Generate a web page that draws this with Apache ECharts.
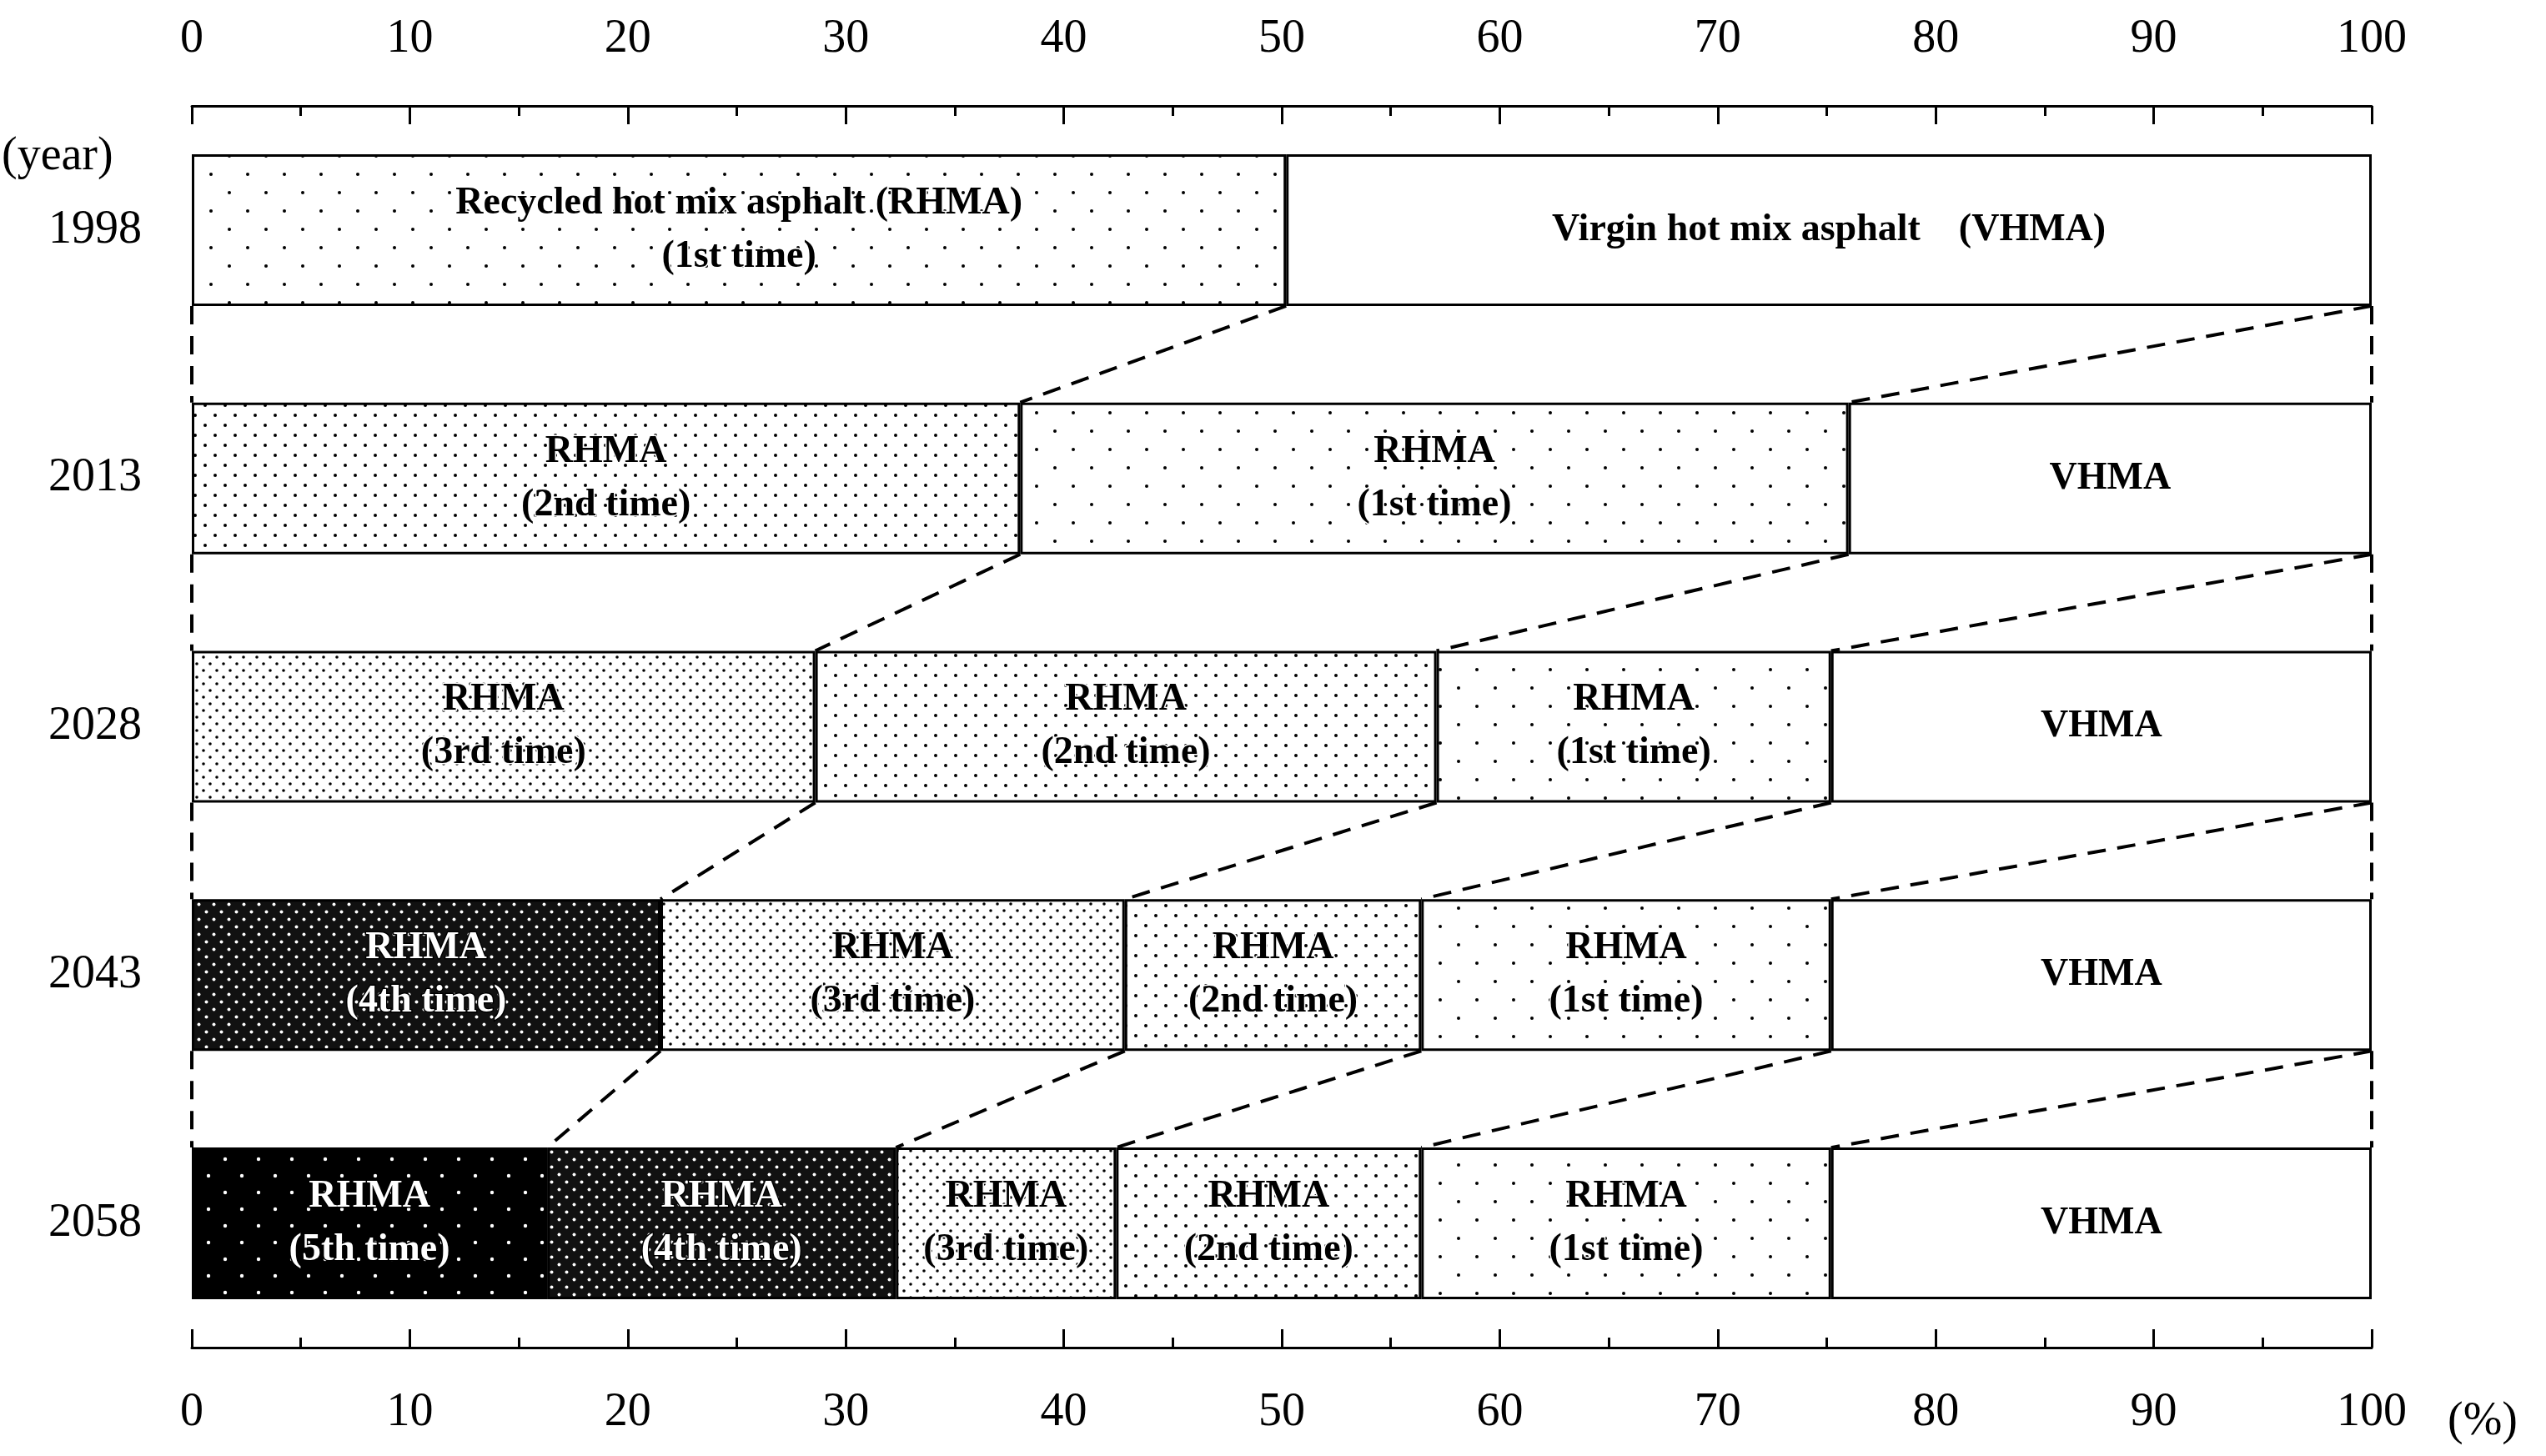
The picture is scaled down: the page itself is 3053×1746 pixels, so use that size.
<!DOCTYPE html>
<html>
<head>
<meta charset="utf-8">
<script src="https://cdn.jsdelivr.net/npm/echarts@6/dist/echarts.min.js"></script>
<style>html,body{margin:0;background:#fff}#c{width:3053px;height:1746px}</style>
</head>
<body>
<div id="c"></div>
<script>
var years = ['1998', '2013', '2028', '2043', '2058'];
var rhma5 = [null, null, null, null, 16.3];
var rhma4 = [null, null, null, 21.5, 16.0];
var rhma3 = [null, null, 28.6, 21.3, 10.1];
var rhma2 = [null, 38.0, 28.5, 13.6, 14.0];
var rhma1 = [50.2, 38.0, 18.1, 18.8, 18.8];
var vhma  = [49.8, 24.0, 24.8, 24.8, 24.8];
var xTicks = [0, 10, 20, 30, 40, 50, 60, 70, 80, 90, 100];

var FONT = '"Liberation Serif", "DejaVu Serif", serif';
var BAR_W = 182;

function makePattern(bg, fg, step, r) {
    var c = document.createElement('canvas');
    c.width = step * 2; c.height = step * 2;
    var g = c.getContext('2d');
    g.fillStyle = bg; g.fillRect(0, 0, c.width, c.height);
    g.fillStyle = fg;
    [[0, 0], [step, step]].forEach(function (p) {
        g.beginPath(); g.arc(p[0] + step / 2, p[1] + step / 2, r, 0, Math.PI * 2); g.fill();
    });
    return { image: c, repeat: 'repeat' };
}

var levels = [
    { name: '5th', data: rhma5, fill: makePattern('#000', '#fff', 20, 2.2), text: '#fff', label: 'RHMA\n(5th time)' },
    { name: '4th', data: rhma4, fill: makePattern('#111', '#fff', 9, 2.0), text: '#fff', label: 'RHMA\n(4th time)' },
    { name: '3rd', data: rhma3, fill: makePattern('#fff', '#000', 8, 1.8), text: '#000', label: 'RHMA\n(3rd time)' },
    { name: '2nd', data: rhma2, fill: makePattern('#fff', '#000', 12, 2.0), text: '#000', label: 'RHMA\n(2nd time)' },
    { name: '1st', data: rhma1, fill: makePattern('#fff', '#000', 22, 2.0), text: '#000', label: 'RHMA\n(1st time)' },
    { name: 'VHMA', data: vhma, fill: '#fff', text: '#000', label: 'VHMA' }
];

var series = levels.map(function (lv) {
    return {
        type: 'bar', stack: 'all', name: lv.name, barWidth: BAR_W, xAxisIndex: 1,
        data: lv.data.map(function (v, i) {
            var lbl = lv.label;
            if (i === 0 && lv.name === '1st') lbl = 'Recycled hot mix asphalt (RHMA)\n(1st time)';
            if (i === 0 && lv.name === 'VHMA') lbl = 'Virgin hot mix asphalt　(VHMA)';
            return { value: v, label: { formatter: lbl } };
        }),
        itemStyle: { color: lv.fill, borderColor: '#000', borderWidth: 3 },
        label: {
            show: true, color: lv.text, fontFamily: FONT, fontSize: 46, fontWeight: 'bold',
            lineHeight: 64, textBorderColor: lv.name === '4th' || lv.name === '5th' ? '#000' : '#fff',
            textBorderWidth: 3
        },
        emphasis: { disabled: true }
    };
});

// boundaries of each year (cumulative ends, excluding 0 ordering left to right)
function bounds(i) {
    var out = [], s = 0;
    levels.forEach(function (lv) {
        if (lv.data[i] != null) { s += lv.data[i]; out.push(s); }
    });
    out[out.length - 1] = 100;
    return out;
}
var links = [];
for (var i = 0; i < years.length - 1; i++) {
    var a = bounds(i), b = bounds(i + 1);
    a.forEach(function (x, k) { links.push([x, i, b[k], i + 1]); });
    links.push([0, i, 0, i + 1]);
    links.push([100, i, 100, i + 1]);
}

series.push({
    type: 'custom', xAxisIndex: 1, data: links, silent: true, z: 1,
    renderItem: function (params, api) {
        var p1 = api.coord([api.value(0), api.value(1)]);
        var p2 = api.coord([api.value(2), api.value(3)]);
        return {
            type: 'line',
            shape: { x1: p1[0], y1: p1[1] + BAR_W / 2, x2: p2[0], y2: p2[1] - BAR_W / 2 },
            style: { stroke: '#000', lineWidth: 4, lineDash: [22, 14] }
        };
    }
});

function xAxis(pos) {
    return {
        type: 'value', position: pos, min: 0, max: 100, interval: 10,
        axisLine: { show: true, lineStyle: { color: '#000', width: 3 } },
        axisTick: { show: true, inside: true, length: 22, lineStyle: { color: '#000', width: 3 } },
        minorTick: { show: true, splitNumber: 2, length: 12, lineStyle: { color: '#000', width: 3 } },
        splitLine: { show: false },
        axisLabel: { color: '#000', fontFamily: FONT, fontSize: 56, margin: pos === 'top' ? 52 : 50 }
    };
}

var chart = echarts.init(document.getElementById('c'));
chart.setOption({
    animation: false,
    grid: { left: 230, right: 209, top: 127, bottom: 130 },
    xAxis: [xAxis('top'), xAxis('bottom')],
    yAxis: {
        type: 'category', data: years, inverse: true,
        axisLine: { show: false }, axisTick: { show: false },
        axisLabel: { color: '#000', fontFamily: FONT, fontSize: 56, margin: 60 }
    },
    graphic: [
        { type: 'text', left: 2, top: 160, style: { text: '(year)', font: '56px ' + FONT, fill: '#000' } },
        { type: 'text', left: 2935, top: 1677, style: { text: '(%)', font: '56px ' + FONT, fill: '#000' } }
    ],
    series: series
});
</script>
</body>
</html>
